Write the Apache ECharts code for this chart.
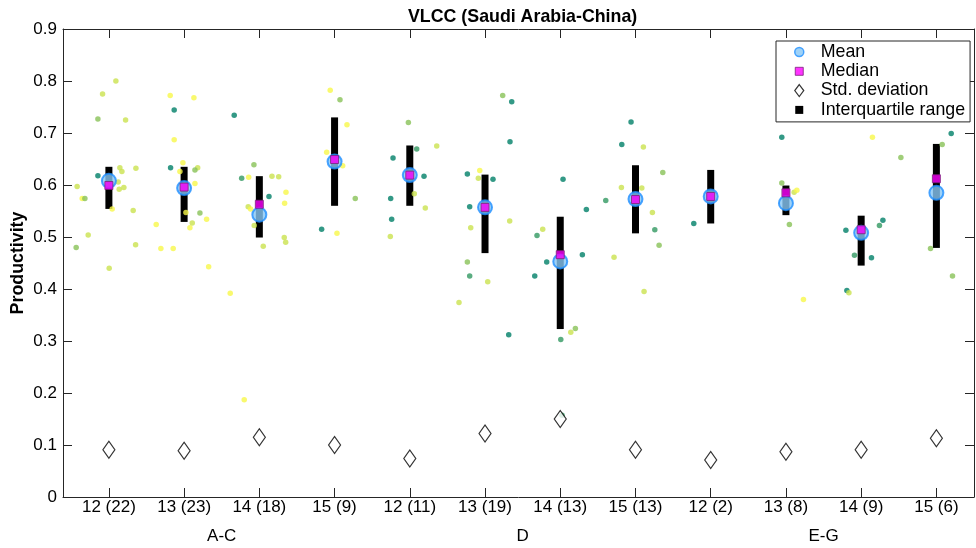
<!DOCTYPE html>
<html>
<head>
<meta charset="utf-8">
<script src="https://cdn.jsdelivr.net/npm/echarts@6/dist/echarts.min.js"></script>
<style>
  html, body { margin: 0; padding: 0; background: #fff; }
  #chart { width: 976px; height: 548px; }
</style>
</head>
<body>
<div id="chart"></div>
<script>
// Sea days (route segment) with vessel count in brackets
const categories = ['12 (22)', '13 (23)', '14 (18)', '15 (9)', '12 (11)', '13 (19)',
                    '14 (13)', '15 (13)', '12 (2)', '13 (8)', '14 (9)', '15 (6)'];
const groupNames = ['A-C', 'D', 'E-G'];
const groupCentres = [2.5, 6.5, 10.5];
const yTicks = [0, 0.1, 0.2, 0.3, 0.4, 0.5, 0.6, 0.7, 0.8, 0.9];

// Summary statistics per category
const meanVals   = [0.608, 0.594, 0.543, 0.645, 0.619, 0.557, 0.453, 0.573, 0.578, 0.565, 0.508, 0.585];
const medianVals = [0.599, 0.596, 0.563, 0.649, 0.619, 0.557, 0.466, 0.572, 0.578, 0.585, 0.514, 0.612];
const q1Vals     = [0.554, 0.529, 0.499, 0.560, 0.560, 0.469, 0.323, 0.507, 0.526, 0.542, 0.445, 0.479];
const q3Vals     = [0.635, 0.635, 0.617, 0.730, 0.676, 0.620, 0.539, 0.638, 0.629, 0.599, 0.541, 0.679];
const stdVals    = [0.091, 0.089, 0.115, 0.100, 0.074, 0.122, 0.150, 0.091, 0.071, 0.087, 0.091, 0.113];

// Individual observations: jittered category position, productivity, shade level (0 dark .. 4 light)
const dotX = [1.093,0.916,0.854,1.222,1.815,2.130,1.868,2.666,1.868,1.984,1.820,2.180,2.144,1.944,1.146,1.173,1.359,0.854,0.578,1.124,
              1.137,1.199,0.645,0.681,1.044,1.323,0.725,0.565,1.355,1.004,2.144,1.629,2.077,2.108,2.210,2.299,1.691,1.855,2.326,2.024,
              2.928,2.765,2.858,3.168,3.257,3.128,3.354,3.336,2.852,2.884,2.932,3.331,3.350,3.052,2.613,2.799,3.942,4.072,4.165,3.895,
              4.108,4.275,3.828,4.032,4.981,5.358,5.092,4.777,5.189,5.060,5.206,4.746,4.759,4.741,5.930,5.911,5.765,6.106,5.796,6.328,
              5.810,5.765,6.235,6.355,6.332,6.767,6.691,6.820,5.796,6.036,5.654,6.315,6.661,7.037,7.347,7.605,7.294,7.715,7.941,7.818,
              8.105,8.363,7.813,8.084,8.225,8.257,8.314,8.775,9.945,9.945,10.046,8.114,7.140,7.201,7.007,7.024,10.109,10.145,11.150,11.528,
              10.797,11.289,11.243,10.911,11.137,12.197,12.077,11.922,10.233,10.810,10.837,12.214];
const dotY = [0.800,0.775,0.727,0.725,0.772,0.768,0.744,0.734,0.687,0.643,0.633,0.633,0.629,0.626,0.633,0.626,0.632,0.618,0.597,0.606,
              0.592,0.595,0.574,0.574,0.554,0.551,0.504,0.480,0.485,0.440,0.603,0.524,0.518,0.527,0.546,0.534,0.478,0.478,0.443,0.547,
              0.639,0.613,0.615,0.617,0.616,0.578,0.586,0.565,0.558,0.554,0.522,0.499,0.490,0.482,0.392,0.187,0.782,0.764,0.716,0.663,
              0.637,0.574,0.515,0.507,0.720,0.675,0.669,0.652,0.617,0.583,0.556,0.574,0.534,0.501,0.628,0.613,0.621,0.611,0.558,0.531,
              0.518,0.452,0.772,0.760,0.683,0.515,0.503,0.452,0.425,0.414,0.374,0.312,0.425,0.611,0.553,0.570,0.466,0.461,0.721,0.678,
              0.673,0.624,0.595,0.594,0.547,0.514,0.484,0.526,0.692,0.604,0.524,0.395,0.317,0.324,0.303,0.157,0.586,0.590,0.692,0.653,
              0.513,0.532,0.522,0.465,0.460,0.699,0.678,0.478,0.380,0.397,0.393,0.425];
const dotLevel = [3,3,2,3,4,4,0,0,4,4,0,3,2,4,3,3,3,0,3,3,
                  3,3,4,2,4,3,3,2,3,3,4,4,4,3,2,4,4,4,4,4,
                  2,1,4,3,3,0,4,4,3,4,3,3,3,3,4,4,4,2,4,4,
                  4,2,0,4,2,3,1,0,0,3,3,0,0,3,4,3,0,0,0,3,
                  3,2,2,0,0,3,1,0,1,3,3,0,0,0,0,1,0,3,0,0,
                  3,2,3,3,3,1,2,0,0,2,2,3,3,2,1,1,3,4,4,2,
                  0,0,1,1,0,0,2,2,4,0,3,2];

// Green-to-yellow ramp for the observation shades
const shadeT = [0, 0.2, 0.55, 0.82, 1];
function shade(level) {
  const t = shadeT[level];
  const r = Math.round(248 * t), g = Math.round(128 + 120 * t), b = Math.round(104 - 30 * t);
  return 'rgb(' + r + ',' + g + ',' + b + ')';
}

const catPos = categories.map((_, i) => i + 1);
const X_MIN = 0.39, X_MAX = 12.5;
const FONT = 'Liberation Sans';
const AXIS_COL = '#262626';

const dotData = dotX.map((x, i) => ({ value: [x, dotY[i]], itemStyle: { color: shade(dotLevel[i]) } }));
const iqrData = q1Vals.map((v, i) => [catPos[i], v, q3Vals[i]]);
const meanData = meanVals.map((v, i) => [catPos[i], v]);
const medianData = medianVals.map((v, i) => [catPos[i], v]);
const stdData = stdVals.map((v, i) => [catPos[i], v]);

const axisLineStyle = { color: AXIS_COL, width: 1 };

const option = {
  animation: false,
  backgroundColor: '#fff',
  textStyle: { fontFamily: FONT },
  title: {
    text: 'VLCC (Saudi Arabia-China)',
    left: 408, top: 8, padding: 0,
    textStyle: { fontFamily: FONT, fontWeight: 'bold', fontSize: 17.8, color: '#000' }
  },
  legend: {
    orient: 'vertical',
    left: 776, top: 41,
    padding: [2, 5, 3, 16],
    itemWidth: 33, itemHeight: 13, itemGap: 1.3,
    backgroundColor: '#fff',
    borderColor: AXIS_COL, borderWidth: 1, borderRadius: 0,
    selectedMode: false,
    textStyle: { fontFamily: FONT, fontSize: 17.8, lineHeight: 18, color: '#000' },
    data: [
      { name: 'Mean', icon: 'path://M0,0M13,13M11,6.5A4.5,4.5,0,1,1,2,6.5A4.5,4.5,0,1,1,11,6.5Z',
        itemStyle: { color: '#87c7f5', borderColor: '#1f8fff', borderWidth: 1.5 } },
      { name: 'Median', icon: 'path://M0,0M13,13M2.5,2.5H10.5V10.5H2.5Z',
        itemStyle: { color: '#ff00ff', borderColor: '#7a1f7a', borderWidth: 1 } },
      { name: 'Std. deviation', icon: 'path://M0,0M13,13M6.5,0.5L11,6.5L6.5,12.5L2,6.5Z',
        itemStyle: { color: '#fff', borderColor: '#000', borderWidth: 1.2 } },
      { name: 'Interquartile range', icon: 'path://M0,0M13,13M2.5,2.5H10.5V10.5H2.5Z',
        itemStyle: { color: '#000', borderColor: '#000', borderWidth: 0 } }
    ]
  },
  grid: { left: 63, right: 2, top: 29, bottom: 51, outerBoundsMode: 'none', containLabel: false },
  xAxis: [
    {
      type: 'value', min: X_MIN, max: X_MAX, position: 'bottom',
      axisLine: { show: true, onZero: false, lineStyle: axisLineStyle },
      axisTick: { show: true, inside: true, length: 9, customValues: catPos, lineStyle: axisLineStyle },
      axisLabel: { show: true, customValues: catPos, margin: 2, fontSize: 17, color: '#000', fontFamily: FONT,
                   formatter: v => categories[Math.round(v) - 1] },
      splitLine: { show: false }
    },
    {
      type: 'value', min: X_MIN, max: X_MAX, position: 'bottom',
      axisLine: { show: false }, axisTick: { show: false },
      axisLabel: { show: true, customValues: groupCentres, margin: 30.5, fontSize: 17, color: '#000', fontFamily: FONT,
                   formatter: v => groupNames[groupCentres.indexOf(v)] },
      splitLine: { show: false }
    },
    {
      type: 'value', min: X_MIN, max: X_MAX, position: 'top',
      axisLine: { show: true, onZero: false, lineStyle: axisLineStyle },
      axisTick: { show: true, inside: true, length: 9, customValues: catPos, lineStyle: axisLineStyle },
      axisLabel: { show: false },
      splitLine: { show: false }
    }
  ],
  yAxis: [
    {
      type: 'value', min: 0, max: 0.9, interval: 0.1, position: 'left',
      name: 'Productivity', nameLocation: 'middle', nameGap: 36, nameRotate: 90, nameMoveOverlap: false,
      nameTextStyle: { fontFamily: FONT, fontWeight: 'bold', fontSize: 17.8, color: '#000' },
      axisLine: { show: true, onZero: false, lineStyle: axisLineStyle },
      axisTick: { show: true, inside: true, length: 9, lineStyle: axisLineStyle },
      axisLabel: { show: true, margin: 6, fontSize: 17, color: '#000', fontFamily: FONT,
                   customValues: yTicks, formatter: v => (v === 0 ? '0' : v.toFixed(1)) },
      splitLine: { show: false }
    },
    {
      type: 'value', min: 0, max: 0.9, interval: 0.1, position: 'right',
      axisLine: { show: true, onZero: false, lineStyle: axisLineStyle },
      axisTick: { show: true, inside: true, length: 9, lineStyle: axisLineStyle },
      axisLabel: { show: false },
      splitLine: { show: false }
    }
  ],
  series: [
    {
      name: 'Observations', type: 'scatter', xAxisIndex: 0, yAxisIndex: 0,
      symbol: 'circle', symbolSize: 5.5, silent: true,
      data: dotData
    },
    {
      name: 'Interquartile range', type: 'custom', xAxisIndex: 0, yAxisIndex: 0,
      itemStyle: { color: '#000' },
      encode: { x: 0, y: [1, 2] },
      renderItem: function (params, api) {
        const lo = api.coord([api.value(0), api.value(1)]);
        const hi = api.coord([api.value(0), api.value(2)]);
        return {
          type: 'rect',
          shape: { x: lo[0] - 3.5, y: hi[1], width: 7, height: lo[1] - hi[1] },
          style: { fill: '#000' }
        };
      },
      data: iqrData
    },
    {
      name: 'Mean', type: 'scatter', xAxisIndex: 0, yAxisIndex: 0,
      symbol: 'circle', symbolSize: 14,
      itemStyle: { color: '#87c7f5', borderColor: '#1f8fff', borderWidth: 2 },
      data: meanData
    },
    {
      name: 'Median', type: 'scatter', xAxisIndex: 0, yAxisIndex: 0,
      symbol: 'rect', symbolSize: 8,
      itemStyle: { color: '#ff00ff', borderColor: '#7a1f7a', borderWidth: 1 },
      data: medianData
    },
    {
      name: 'Std. deviation', type: 'scatter', xAxisIndex: 0, yAxisIndex: 0,
      symbol: 'diamond', symbolSize: [12, 17],
      itemStyle: { color: '#fff', borderColor: '#000', borderWidth: 1.2 },
      data: stdData
    }
  ]
};

const chart = echarts.init(document.getElementById('chart'), null, { renderer: 'canvas' });
chart.setOption(option);
</script>
</body>
</html>
